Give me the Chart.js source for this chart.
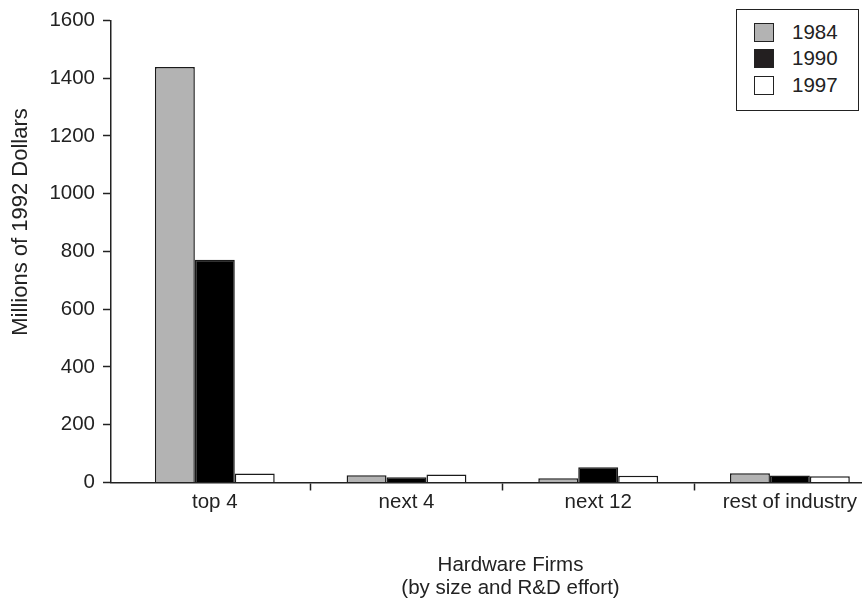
<!DOCTYPE html>
<html>
<head>
<meta charset="utf-8">
<script src="https://cdn.jsdelivr.net/npm/chart.js@4/dist/chart.umd.min.js"></script>
<style>
    html, body { margin: 0; padding: 0; background: #fff; }
    #wrap { position: relative; width: 862px; height: 600px; overflow: hidden; }
    #chart { position: absolute; left: 0; top: 0; }
    #legend {
        position: absolute; left: 736px; top: 9px; width: 121px; height: 100px;
        border: 1.5px solid #222; background: #fff;
        font: 20.5px "Liberation Sans", Arial, sans-serif; color: #222;
    }
    .legend-row { position: absolute; left: 17px; height: 20px; display: flex; align-items: center; }
    .legend-swatch { width: 18px; height: 17px; border: 1.5px solid #222; margin-right: 18px; }
</style>
</head>
<body>
<div id="wrap">
    <canvas id="chart" width="910" height="600"></canvas>
    <div id="legend"></div>
</div>
<script>
// Hardware firms R&D spending, millions of 1992 dollars
const categories = ['top 4', 'next 4', 'next 12', 'rest of industry'];
const seriesLabels = ['1984', '1990', '1997'];
const values1984 = [1438, 25, 15, 32];
const values1990 = [771, 18, 53, 24];
const values1997 = [31, 28, 23, 22];
const seriesColors = ['#b3b3b3', '#000000', '#ffffff'];
const legendColors = ['#b3b3b3', '#231f20', '#ffffff'];
const yMin = 0, yMax = 1600, yStep = 200;
const yAxisTitle = 'Millions of 1992 Dollars';
const xAxisTitle = ['Hardware Firms', '(by size and R&D effort)'];

const FONT = '"Liberation Sans", Arial, Helvetica, sans-serif';
const TEXT = '#222';

const seriesValues = [values1984, values1990, values1997];

// the original plot is wider than the picture and cut off on the right,
// so the x range runs past the visible edge
const datasets = seriesLabels.map((label, s) => ({
    label,
    data: seriesValues[s].map((v, i) => ({ x: i, y: v })),
    backgroundColor: seriesColors[s],
    borderColor: '#1a1a1a',
    borderWidth: 1.5,
    borderSkipped: 'bottom',
}));

const yTitlePlugin = {
    id: 'yTitle',
    afterDraw(chart) {
        const ctx = chart.ctx;
        ctx.save();
        ctx.translate(21, 222);
        ctx.rotate(-Math.PI / 2);
        ctx.font = `22px ${FONT}`;
        ctx.fillStyle = TEXT;
        ctx.textAlign = 'center';
        ctx.textBaseline = 'middle';
        ctx.fillText(yAxisTitle, 0, 0);
        ctx.restore();
    }
};

new Chart(document.getElementById('chart'), {
    type: 'bar',
    data: { datasets },
    plugins: [yTitlePlugin],
    options: {
        responsive: false,
        animation: false,
        devicePixelRatio: 1,
        layout: { padding: { top: 19, left: 0, right: 0, bottom: 0 } },
        datasets: { bar: { categoryPercentage: 0.625, barPercentage: 1, grouped: true } },
        plugins: { legend: { display: false }, tooltip: { enabled: false } },
        scales: {
            x: {
                type: 'linear',
                offset: false,
                min: -0.5415,
                max: 3.6265,
                afterBuildTicks: (scale) => { scale.ticks = categories.map((c, i) => ({ value: i })); },
                ticks: {
                    autoSkip: false, maxRotation: 0, padding: 0,
                    color: TEXT, font: { family: FONT, size: 20.5 },
                    callback: (value) => categories[value],
                },
                grid: {
                    offset: true, drawOnChartArea: false, tickLength: 8, tickWidth: 1.5,
                    tickColor: (ctx) => (ctx.index === 0 ? 'rgba(0,0,0,0)' : '#222'),
                },
                border: { color: '#222', width: 1.5 },
                title: {
                    display: true, text: xAxisTitle, color: TEXT,
                    font: { family: FONT, size: 20.5, lineHeight: 1.12 },
                    padding: { top: 39, bottom: 0 },
                },
            },
            y: {
                min: yMin, max: yMax,
                afterFit: (scale) => { scale.width = 111; },
                ticks: {
                    stepSize: yStep, padding: 8, color: TEXT, font: { family: FONT, size: 20.5 },
                    callback: (value) => String(value),
                },
                grid: { drawOnChartArea: false, tickLength: 8, tickWidth: 1.5, tickColor: '#222' },
                border: { color: '#222', width: 1.5 },
            },
        },
    },
});

const legend = document.getElementById('legend');
const rowTops = [12, 38, 65];
legend.innerHTML = seriesLabels.map((label, s) =>
    `<div class="legend-row" style="top:${rowTops[s]}px"><span class="legend-swatch" style="background:${legendColors[s]}"></span>${label}</div>`
).join('');
</script>
</body>
</html>
